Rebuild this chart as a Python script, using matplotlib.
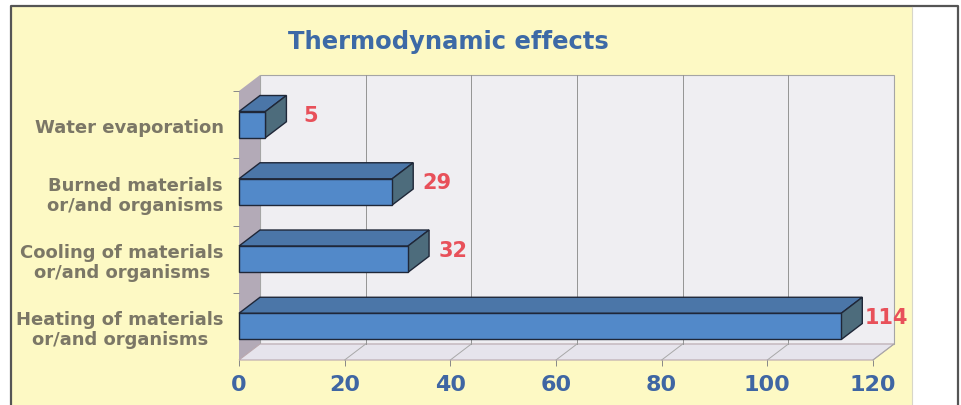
import matplotlib
matplotlib.use("Agg")
import matplotlib.pyplot as plt
from matplotlib.patches import Polygon, Rectangle
from matplotlib.lines import Line2D

# --- data ---
categories = ["Heating of materials\nor/and organisms",
              "Cooling of materials\nor/and organisms",
              "Burned materials\nor/and organisms",
              "Water evaporation"]
values = [114, 32, 29, 5]
xticks = [0, 20, 40, 60, 80, 100, 120]

# --- styles ---
bg_yellow = "#fdf9c4"
wall_col = "#efeef2"
side_wall = "#b3aab7"
floor_col = "#e6e4ec"
front_col = "#5289c9"
top_col = "#4b76a8"
side_col = "#4d6c7c"
edge_col = "#1f2738"
lab_col = "#7b7766"
tick_col = "#3f66a3"
val_col = "#e8505a"

plt.rcParams["font.family"] = ["DejaVu Sans"]

W, H = 961, 406
fig = plt.figure(figsize=(W / 100, H / 100), dpi=100)
fig.patch.set_facecolor("white")

# page frame
fig.add_artist(Rectangle((11 / W, 0), (912 - 11) / W, (H - 7) / H, transform=fig.transFigure,
                         facecolor=bg_yellow, edgecolor="none", zorder=0))
fig.add_artist(Line2D([11 / W, 11 / W, 958 / W, 958 / W], [0, (H - 7) / H, (H - 7) / H, 0],
                      transform=fig.transFigure, color="#555555", lw=1.6))
fig.add_artist(Line2D([912 / W, 912 / W], [0, (H - 8) / H], transform=fig.transFigure,
                      color="#d8d6c8", lw=0.8))

fig.text(448 / W, 1 - 42 / H, "Thermodynamic effects", ha="center", va="center",
         fontsize=17.5, fontweight="bold", color="#3d6aa6")

# front plane of the 3D plot
x0, x1 = 239, 873
y0, y1 = 361, 92
ax = fig.add_axes([x0 / W, (H - y0) / H, (x1 - x0) / W, (y0 - y1) / H])
ax.set_xlim(0, 120)
ax.set_ylim(-0.5, 3.5)
ax.patch.set_visible(False)
for s in ax.spines.values():
    s.set_visible(False)

dx = 21 / ((x1 - x0) / 120)   # depth offset in data units
dy = 16 / ((y0 - y1) / 4)
xmax = xticks[-1]
ylo, yhi = -0.5, 3.5

# walls
ax.add_patch(Polygon([(dx, ylo + dy), (xmax + dx, ylo + dy), (xmax + dx, yhi + dy), (dx, yhi + dy)],
                     closed=True, facecolor=wall_col, edgecolor="#a5a5a5", lw=0.8, clip_on=False, zorder=1))
ax.add_patch(Polygon([(0, ylo), (dx, ylo + dy), (dx, yhi + dy), (0, yhi)],
                     closed=True, facecolor=side_wall, edgecolor="none", clip_on=False, zorder=1))
ax.add_patch(Polygon([(0, ylo), (xmax, ylo), (xmax + dx, ylo + dy), (dx, ylo + dy)],
                     closed=True, facecolor=floor_col, edgecolor="#b9a7ae", lw=0.8, clip_on=False, zorder=1))
for t in xticks[1:-1]:
    ax.plot([t + dx, t + dx], [ylo + dy, yhi + dy], color="#949494", lw=0.7, zorder=1.5, clip_on=False)
for t in xticks[1:]:
    ax.plot([t, t + dx], [ylo, ylo + dy], color="#a8a8a8", lw=0.7, zorder=1.5, clip_on=False)

# bars
h = 0.39
for i, v in enumerate(values):
    b, t = i - h / 2, i + h / 2
    ax.add_patch(Polygon([(0, t), (v, t), (v + dx, t + dy), (dx, t + dy)], closed=True,
                         facecolor=top_col, edgecolor=edge_col, lw=1.0, clip_on=False, zorder=3))
    ax.add_patch(Polygon([(v, b), (v + dx, b + dy), (v + dx, t + dy), (v, t)], closed=True,
                         facecolor=side_col, edgecolor=edge_col, lw=1.0, clip_on=False, zorder=3))
    ax.add_patch(Rectangle((0, b), v, h, facecolor=front_col, edgecolor=edge_col, lw=1.0,
                           clip_on=False, zorder=4))
    ax.text(v + 8.5, i + dy * 0.6, str(v), ha="center", va="center", fontsize=15,
            fontweight="bold", color=val_col, zorder=5, clip_on=False)

# axes ticks
ax.set_xticks(xticks)
ax.set_xticklabels([str(t) for t in xticks], fontsize=16, fontweight="bold", color=tick_col)
ax.tick_params(axis="x", length=4, width=0.7, color="#888888", pad=6)
ax.set_yticks(range(len(categories)))
ax.set_yticklabels(categories, fontsize=13, fontweight="bold", color=lab_col,
                   multialignment="center", linespacing=1.15)
ax.set_yticks([k - 0.5 for k in range(1, 5)], minor=True)
ax.tick_params(axis="y", which="major", length=0, pad=11)
ax.tick_params(axis="y", which="minor", length=4, width=0.7, color="#888888")

fig.savefig("out.png", dpi=100)
